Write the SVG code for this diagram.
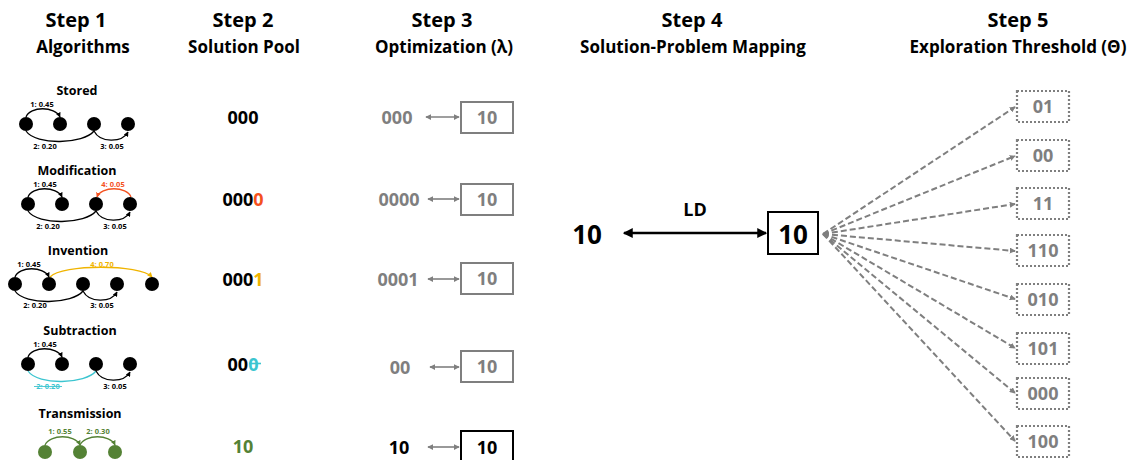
<svg xmlns="http://www.w3.org/2000/svg" width="1134" height="460" viewBox="0 0 1134 460">
<defs>
<style>
text{font-family:"Open Sans","Liberation Sans",sans-serif;font-weight:bold}
.h1{font-size:20px;text-anchor:middle;fill:#000}
.h2{font-size:17px;text-anchor:middle;fill:#000}
.ttl{font-size:12.5px;text-anchor:middle;fill:#000}
.lbl{font-size:7.5px;text-anchor:middle;fill:#000}
.pool{font-size:18px;text-anchor:middle;fill:#000}
.gtxt{font-size:18px;text-anchor:middle;fill:#7f7f7f}
.big{font-size:26px;text-anchor:middle;fill:#000}
.arc{fill:none;stroke:#000;stroke-width:1.3}
.node{fill:#000}
.gnode{fill:#548235}
.gbox{fill:#fff;stroke:#7f7f7f;stroke-width:2}
.dbox{fill:#fff;stroke:#7f7f7f;stroke-width:2.2;stroke-dasharray:2 2}
.garr{stroke:#7f7f7f;stroke-width:1.6;fill:none}
.fan{stroke:#7f7f7f;stroke-width:2;fill:none;stroke-dasharray:6 3}
</style>
<marker id="ab" viewBox="0 0 8 8" refX="7" refY="4" markerWidth="5" markerHeight="5" markerUnits="userSpaceOnUse" orient="auto"><path d="M0,0 L8,4 L0,8 z" fill="#000"/></marker>
<marker id="ao" viewBox="0 0 8 8" refX="7" refY="4" markerWidth="5" markerHeight="5" markerUnits="userSpaceOnUse" orient="auto"><path d="M0,0 L8,4 L0,8 z" fill="#f4511e"/></marker>
<marker id="ay" viewBox="0 0 8 8" refX="7" refY="4" markerWidth="5" markerHeight="5" markerUnits="userSpaceOnUse" orient="auto"><path d="M0,0 L8,4 L0,8 z" fill="#f0b400"/></marker>
<marker id="ag" viewBox="0 0 8 8" refX="7" refY="4" markerWidth="5" markerHeight="5" markerUnits="userSpaceOnUse" orient="auto"><path d="M0,0 L8,4 L0,8 z" fill="#548235"/></marker>
<marker id="agr" viewBox="0 0 8 8" refX="7" refY="4" markerWidth="6" markerHeight="6" markerUnits="userSpaceOnUse" orient="auto-start-reverse"><path d="M0,0 L8,4 L0,8 z" fill="#7f7f7f"/></marker>
<marker id="abig" viewBox="0 0 8 8" refX="7" refY="4" markerWidth="10" markerHeight="10" markerUnits="userSpaceOnUse" orient="auto-start-reverse"><path d="M0,0 L8,4 L0,8 z" fill="#000"/></marker>
</defs>
<rect width="1134" height="460" fill="#fff"/>

<g id="headers">
<text class="h1" x="76" y="27">Step 1</text>
<text class="h2" x="83" y="53">Algorithms</text>
<text class="h1" x="243" y="27">Step 2</text>
<text class="h2" x="244" y="53">Solution Pool</text>
<text class="h1" x="442" y="27">Step 3</text>
<text class="h2" x="444" y="53">Optimization (λ)</text>
<text class="h1" x="692" y="27">Step 4</text>
<text class="h2" x="693" y="53">Solution-Problem Mapping</text>
<text class="h1" x="1018" y="27">Step 5</text>
<text class="h2" x="1018" y="53">Exploration Threshold (Θ)</text>
</g>

<!-- Step 1 algorithms -->
<g id="alg-stored">
<text class="ttl" x="77" y="95">Stored</text>
<path class="arc" d="M26,117 C30,106 55,106 60,117" marker-end="url(#ab)"/>
<path class="arc" d="M26,131 C36,146 84,144 94,131"/>
<path class="arc" d="M94,131 C100,143 122,143 128,132" marker-end="url(#ab)"/>
<circle class="node" cx="26" cy="124" r="7"/>
<circle class="node" cx="60" cy="124" r="7"/>
<circle class="node" cx="94" cy="124" r="7"/>
<circle class="node" cx="128" cy="124" r="7"/>
<text class="lbl" x="42" y="107">1: 0.45</text>
<text class="lbl" x="45" y="149">2: 0.20</text>
<text class="lbl" x="112" y="149">3: 0.05</text>
</g>

<g id="alg-modification">
<text class="ttl" x="77" y="175">Modification</text>
<path class="arc" d="M28,197 C32,186 57,186 62,197" marker-end="url(#ab)"/>
<path class="arc" d="M28,211 C38,226 86,224 96,211"/>
<path class="arc" d="M96,211 C102,223 124,223 130,212" marker-end="url(#ab)"/>
<path d="M131,197 C127,186 101,186 97,197" fill="none" stroke="#f4511e" stroke-width="1.3" marker-end="url(#ao)"/>
<circle class="node" cx="28" cy="204" r="7"/>
<circle class="node" cx="62" cy="204" r="7"/>
<circle class="node" cx="96" cy="204" r="7"/>
<circle class="node" cx="130" cy="204" r="7"/>
<text class="lbl" x="45" y="187">1: 0.45</text>
<text class="lbl" x="113" y="187" style="fill:#f4511e">4: 0.05</text>
<text class="lbl" x="48" y="229">2: 0.20</text>
<text class="lbl" x="115" y="229">3: 0.05</text>
</g>

<g id="alg-invention">
<text class="ttl" x="78" y="255">Invention</text>
<path class="arc" d="M15,277 C19,266 44,266 49,277" marker-end="url(#ab)"/>
<path d="M50,277 C62,264 140,264 152,277" fill="none" stroke="#f0b400" stroke-width="1.3" marker-end="url(#ay)"/>
<path class="arc" d="M15,291 C25,306 73,304 83,291"/>
<path class="arc" d="M83,291 C89,303 111,303 117,292" marker-end="url(#ab)"/>
<circle class="node" cx="15" cy="284" r="7"/>
<circle class="node" cx="49" cy="284" r="7"/>
<circle class="node" cx="83" cy="284" r="7"/>
<circle class="node" cx="117" cy="284" r="7"/>
<circle class="node" cx="152" cy="284" r="7"/>
<text class="lbl" x="29" y="267">1: 0.45</text>
<text class="lbl" x="102" y="267" style="fill:#f0b400">4: 0.70</text>
<text class="lbl" x="35" y="308">2: 0.20</text>
<text class="lbl" x="102" y="308">3: 0.05</text>
</g>

<g id="alg-subtraction">
<text class="ttl" x="80" y="335">Subtraction</text>
<path class="arc" d="M28,357 C32,346 57,346 62,357" marker-end="url(#ab)"/>
<path d="M28,371 C38,386 86,384 96,371" fill="none" stroke="#3cc5d0" stroke-width="1.3"/>
<path class="arc" d="M96,371 C102,383 124,383 130,372" marker-end="url(#ab)"/>
<circle class="node" cx="28" cy="364" r="7"/>
<circle class="node" cx="62" cy="364" r="7"/>
<circle class="node" cx="96" cy="364" r="7"/>
<circle class="node" cx="130" cy="364" r="7"/>
<text class="lbl" x="45" y="347">1: 0.45</text>
<text class="lbl" x="48" y="389" style="fill:#3cc5d0">2: 0.20</text>
<line x1="34" y1="386.5" x2="62" y2="386.5" stroke="#3cc5d0" stroke-width="0.9"/>
<text class="lbl" x="115" y="389">3: 0.05</text>
</g>

<g id="alg-transmission">
<text class="ttl" x="80" y="418">Transmission</text>
<path d="M45,445 C50,434 75,434 80,445" fill="none" stroke="#548235" stroke-width="1.3" marker-end="url(#ag)"/>
<path d="M80,445 C85,434 110,434 115,445" fill="none" stroke="#548235" stroke-width="1.3" marker-end="url(#ag)"/>
<circle class="gnode" cx="45" cy="452" r="7"/>
<circle class="gnode" cx="80" cy="452" r="7"/>
<circle class="gnode" cx="115" cy="452" r="7"/>
<text class="lbl" x="60" y="434" style="fill:#548235">1: 0.55</text>
<text class="lbl" x="98" y="434" style="fill:#548235">2: 0.30</text>
</g>

<!-- Step 2 pool -->
<g id="pool">
<text class="pool" x="243" y="124">000</text>
<text class="pool" x="243" y="206">000<tspan fill="#f4511e">0</tspan></text>
<text class="pool" x="243" y="286">000<tspan fill="#f0b400">1</tspan></text>
<text class="pool" x="243" y="371">00<tspan fill="#3cc5d0">0</tspan></text>
<line x1="249" y1="363.5" x2="261" y2="363.5" stroke="#3cc5d0" stroke-width="1.6"/>
<text class="pool" x="243" y="453" style="fill:#548235">10</text>
</g>

<!-- Step 3 optimization -->
<g id="opt-texts">
<text class="gtxt" x="397" y="124">000</text>
<text class="gtxt" x="399" y="206">0000</text>
<text class="gtxt" x="398" y="286">0001</text>
<text class="gtxt" x="400" y="374">00</text>
<text class="pool" x="399" y="454">10</text>
</g>
<g id="opt-box1"><rect class="gbox" x="461" y="102" width="52" height="31"/><text class="gtxt" x="487" y="124">10</text></g>
<g id="opt-box2"><rect class="gbox" x="461" y="184" width="52" height="31"/><text class="gtxt" x="487" y="206">10</text></g>
<g id="opt-box3"><rect class="gbox" x="461" y="263" width="52" height="31"/><text class="gtxt" x="487" y="285">10</text></g>
<g id="opt-box4"><rect class="gbox" x="461" y="351" width="52" height="31"/><text class="gtxt" x="487" y="373">10</text></g>
<g id="opt-box5"><rect x="461" y="431" width="52" height="31" fill="#fff" stroke="#000" stroke-width="2"/><text class="pool" x="487" y="454">10</text></g>

<!-- Step 4 -->
<g id="map-source"><text class="big" x="587" y="244">10</text></g>
<g id="map-target"><rect x="768" y="212" width="50" height="42" fill="#fff" stroke="#000" stroke-width="2"/><text class="big" x="793" y="244">10</text></g>

<!-- Step 5 boxes -->
<g id="exp-01"><rect class="dbox" x="1017" y="91" width="52" height="31"/><text class="gtxt" x="1043" y="113">01</text></g>
<g id="exp-00"><rect class="dbox" x="1017" y="140" width="52" height="31"/><text class="gtxt" x="1043" y="162">00</text></g>
<g id="exp-11"><rect class="dbox" x="1017" y="188" width="52" height="31"/><text class="gtxt" x="1043" y="210">11</text></g>
<g id="exp-110"><rect class="dbox" x="1017" y="235" width="52" height="31"/><text class="gtxt" x="1043" y="257">110</text></g>
<g id="exp-010"><rect class="dbox" x="1017" y="284" width="52" height="31"/><text class="gtxt" x="1043" y="306">010</text></g>
<g id="exp-101"><rect class="dbox" x="1017" y="333" width="52" height="31"/><text class="gtxt" x="1043" y="355">101</text></g>
<g id="exp-000"><rect class="dbox" x="1017" y="378" width="52" height="31"/><text class="gtxt" x="1043" y="400">000</text></g>
<g id="exp-100"><rect class="dbox" x="1017" y="426" width="52" height="31"/><text class="gtxt" x="1043" y="448">100</text></g>

<g id="connectors">
<line class="garr" x1="426" y1="117" x2="459" y2="117" marker-start="url(#agr)" marker-end="url(#agr)"/>
<line class="garr" x1="428" y1="199" x2="459" y2="199" marker-start="url(#agr)" marker-end="url(#agr)"/>
<line class="garr" x1="428" y1="279" x2="459" y2="279" marker-start="url(#agr)" marker-end="url(#agr)"/>
<line class="garr" x1="430" y1="367" x2="459" y2="367" marker-start="url(#agr)" marker-end="url(#agr)"/>
<line class="garr" x1="428" y1="447" x2="459" y2="447" marker-start="url(#agr)" marker-end="url(#agr)"/>
<line x1="624" y1="233" x2="766" y2="233" stroke="#000" stroke-width="2.5" marker-start="url(#abig)" marker-end="url(#abig)"/>
<line class="fan" x1="823" y1="234" x2="1015" y2="107" marker-end="url(#agr)"/>
<line class="fan" x1="823" y1="234" x2="1015" y2="156" marker-end="url(#agr)"/>
<line class="fan" x1="823" y1="234" x2="1015" y2="204" marker-end="url(#agr)"/>
<line class="fan" x1="823" y1="234" x2="1015" y2="251" marker-end="url(#agr)"/>
<line class="fan" x1="823" y1="234" x2="1015" y2="299" marker-end="url(#agr)"/>
<line class="fan" x1="823" y1="234" x2="1015" y2="348" marker-end="url(#agr)"/>
<line class="fan" x1="823" y1="234" x2="1015" y2="393" marker-end="url(#agr)"/>
<line class="fan" x1="823" y1="234" x2="1015" y2="441" marker-end="url(#agr)"/>
<text x="695" y="216" style="font-size:18px;text-anchor:middle;fill:#000">LD</text>
</g>
</svg>
